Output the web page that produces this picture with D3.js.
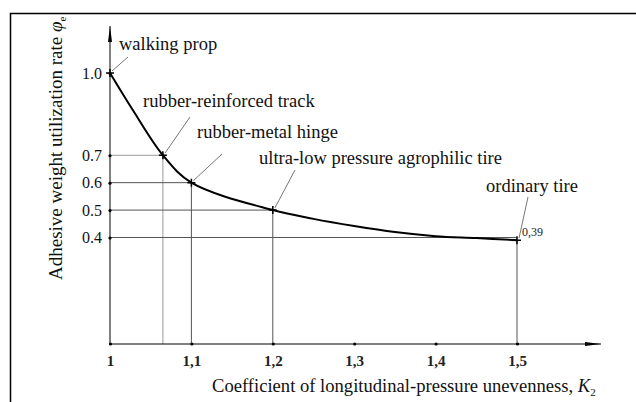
<!DOCTYPE html>
<html>
<head>
<meta charset="utf-8">
<script src="https://cdn.jsdelivr.net/npm/d3@7"></script>
<style>
  body { margin: 0; background: #fff; }
  svg { display: block; font-family: "Liberation Serif", "Times New Roman", serif; }
</style>
</head>
<body>
<script>
// chart data
var xTicks = [1, 1.1, 1.2, 1.3, 1.4, 1.5];
var xTickLabels = ["1", "1,1", "1,2", "1,3", "1,4", "1,5"];
var yTicks = [1.0, 0.7, 0.6, 0.5, 0.4];
var yTickLabels = ["1.0", "0.7", "0.6", "0.5", "0.4"];

// curve
var curveK = [1, 1.028, 1.065, 1.1, 1.2, 1.25, 1.3, 1.35, 1.4, 1.45, 1.5];
var curvePhi = [1.0, 0.865, 0.7, 0.6, 0.5, 0.468, 0.442, 0.42, 0.405, 0.398, 0.39];

// marked points
var pointNames = ["walking prop", "rubber-reinforced track", "rubber-metal hinge",
                  "ultra-low pressure agrophilic tire", "ordinary tire"];
var pointK = [1, 1.065, 1.1, 1.2, 1.5];
var pointPhi = [1.0, 0.7, 0.6, 0.5, 0.39];
var pointRef = [null, 0.7, 0.6, 0.5, 0.4];   // level of the guide line

var W = 636, H = 402;
var axisY = 344, axisX = 110;

var x = d3.scaleLinear().domain([1, 1.5]).range([110, 517]);
var y = d3.scaleLinear().domain([0.4, 1.0]).range([237.5, 73]);

var svg = d3.select("body").append("svg")
    .attr("width", W).attr("height", H);

// frame
svg.append("path").attr("d", "M10.5," + H + "V13.5H" + W)
    .attr("fill", "none").attr("stroke", "#000").attr("stroke-width", 1.5);

var defs = svg.append("defs");
defs.append("marker").attr("id", "arr")
    .attr("viewBox", "0 0 16 6").attr("refX", 16).attr("refY", 3)
    .attr("markerWidth", 16).attr("markerHeight", 6)
    .attr("markerUnits", "userSpaceOnUse").attr("orient", "auto")
  .append("path").attr("d", "M0,1L16,3L0,5Z").attr("fill", "#000");

// guide lines
var guides = svg.append("g").attr("fill", "none");
pointK.forEach(function(k, i) {
  if (pointRef[i] === null) return;
  var col = i == 1 ? "#999" : "#555";
  guides.append("line")
      .attr("x1", axisX).attr("x2", x(k))
      .attr("y1", y(pointRef[i])).attr("y2", y(pointRef[i]))
      .attr("stroke", col).attr("stroke-width", 1);
  guides.append("line")
      .attr("x1", x(k)).attr("x2", x(k))
      .attr("y1", axisY).attr("y2", y(pointPhi[i]))
      .attr("stroke", col).attr("stroke-width", 1);
});

// axes lines with arrows
svg.append("line").attr("x1", axisX).attr("y1", axisY).attr("x2", axisX).attr("y2", 26)
    .attr("stroke", "#000").attr("stroke-width", 1).attr("marker-end", "url(#arr)");
svg.append("line").attr("x1", axisX).attr("y1", axisY).attr("x2", 601).attr("y2", axisY)
    .attr("stroke", "#000").attr("stroke-width", 1).attr("marker-end", "url(#arr)");

// y tick labels
var yAxis = svg.append("g").attr("transform", "translate(" + axisX + ",0)")
    .call(d3.axisLeft(y).tickValues(yTicks).tickSize(0).tickPadding(8)
      .tickFormat(function(d, i) { return yTickLabels[i]; }));
yAxis.attr("font-family", null).attr("font-size", null);
yAxis.select(".domain").remove();
yAxis.selectAll("text").attr("font-size", 16).attr("fill", "#111");
yAxis.selectAll(".tick").append("circle").attr("r", 1.6).attr("fill", "#000");

// x tick labels
var xAxis = svg.append("g").attr("transform", "translate(0," + axisY + ")")
    .call(d3.axisBottom(x).tickValues(xTicks).tickSize(0).tickPadding(11)
      .tickFormat(function(d, i) { return xTickLabels[i]; }));
xAxis.attr("font-family", null).attr("font-size", null);
xAxis.select(".domain").remove();
xAxis.selectAll("text").attr("font-size", 15)
    .attr("font-weight", "bold").attr("fill", "#222");
xAxis.selectAll(".tick").append("circle").attr("r", 1.6).attr("fill", "#000");

// curve
var curveData = curveK.map(function(k, i) { return [k, curvePhi[i]]; });
svg.append("path").datum(curveData)
    .attr("d", d3.line().x(function(d) { return x(d[0]); }).y(function(d) { return y(d[1]); })
      .curve(d3.curveCatmullRom.alpha(0.5)))
    .attr("fill", "none").attr("stroke", "#000").attr("stroke-width", 2);

// point marks
pointK.forEach(function(k, i) {
  var px = x(k), py = y(pointPhi[i]);
  svg.append("path").attr("d", "M" + (px - 4) + "," + py + "h8M" + px + "," + (py - 4) + "v8")
      .attr("stroke", "#000").attr("stroke-width", 1.5);
});

// annotations: label position and leader end
var labelX = [119, 143, 197, 259, 486];
var labelY = [50, 107, 138, 164, 192];
var leadX = [128, 190, 222, 295, 528];
var leadY = [57, 117, 154, 170, 197];
pointNames.forEach(function(name, i) {
  svg.append("line")
      .attr("x1", x(pointK[i]) + 2).attr("y1", y(pointPhi[i]) - 2)
      .attr("x2", leadX[i]).attr("y2", leadY[i])
      .attr("stroke", "#777").attr("stroke-width", 1);
  svg.append("text").attr("x", labelX[i]).attr("y", labelY[i])
      .attr("font-size", 18.5).attr("fill", "#111").text(name);
});
svg.append("text").attr("x", x(1.5) + 5).attr("y", y(0.39) - 4)
    .attr("font-size", 12).attr("fill", "#222").text("0,39");

// axis titles
var xt = svg.append("text").attr("x", 212).attr("y", 392)
    .attr("font-size", 18.6).attr("fill", "#111");
xt.append("tspan").text("Coefficient of longitudinal-pressure unevenness, ");
xt.append("tspan").attr("font-style", "italic").text("K");
xt.append("tspan").attr("font-size", 11).attr("dy", 4).text("2");

var yt = svg.append("text").attr("transform", "translate(62,280) rotate(-90)")
    .attr("font-size", 19).attr("fill", "#111");
yt.append("tspan").text("Adhesive weight utilization rate ");
yt.append("tspan").attr("font-style", "italic").text("\u03c6");
yt.append("tspan").attr("font-size", 11).attr("dy", 4).text("e");
</script>
</body>
</html>
